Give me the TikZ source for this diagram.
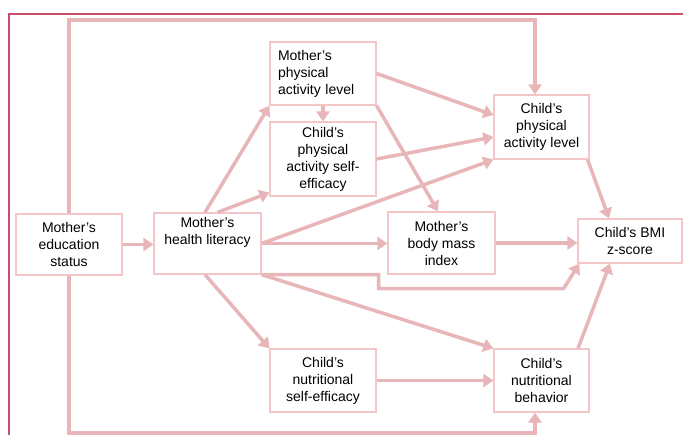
\documentclass[tikz,border=0pt]{standalone}
\usepackage{fontspec}
\setmainfont{Liberation Sans}
\usetikzlibrary{arrows.meta}
\definecolor{boxpink}{HTML}{F4C6C8}
\definecolor{arrpink}{HTML}{E8B5B9}
\definecolor{framered}{HTML}{C84E69}

\begin{document}
\begin{tikzpicture}[x=1pt, y=-1pt,
        box/.style={draw=boxpink, line width=1.2pt, inner sep=0pt, align=center, font=\fontsize{14}{17}\selectfont},
        arr/.style={draw=arrpink, line width=3.5pt, -{Triangle[length=10pt,width=13pt]}}]
            \useasboundingbox (0,0) rectangle (683,435);
            \draw[framered, line width=1.4pt] (9,435) -- (9,14) -- (683,14);

            \node[box, minimum width=106pt, minimum height=61pt] (mes) at (69,244.5) {Mother’s\\education\\status};
            \node[box, minimum width=107pt, minimum height=61pt] (mhl) at (207.5,243.5) {Mother’s\\health literacy\\[8pt]};
            \node[box, minimum width=106pt, minimum height=63pt, text width=90pt, align=left] (mpa) at (323,73.5) {Mother’s\\physical\\activity level};
            \node[box, minimum width=106pt, minimum height=74pt] (cpase) at (323,159) {Child’s\\physical\\activity self-\\efficacy};
            \node[box, minimum width=95pt, minimum height=64pt] (cpa) at (541.5,127) {Child’s\\physical\\activity level};
            \node[box, minimum width=107pt, minimum height=62pt] (mbmi) at (441.5,243) {Mother’s\\body mass\\index};
            \node[box, minimum width=104pt, minimum height=44pt] (cbmi) at (630,241) {Child’s BMI\\z-score};
            \node[box, minimum width=106pt, minimum height=63pt] (cnse) at (323,380.5) {Child’s\\nutritional\\self-efficacy};
            \node[box, minimum width=95pt, minimum height=63pt] (cnb) at (541.5,380.5) {Child’s\\nutritional\\behavior};

            \coordinate (top) at (300,20);
            \coordinate (bot) at (300,433);

            \draw[arr] (mes.east) -- (mes.east -| mhl.west);
            \draw[arr] (mes.north) |- (top) -| ([xshift=-6.5pt]cpa.north);
            \draw[arr] (mes.south) |- (bot) -| ([xshift=-6.5pt]cnb.south);
            \draw[arr] ([xshift=-2.5pt]mhl.north) -- (mpa.south west);
            \draw[arr] ([xshift=10pt]mhl.north) -- ([yshift=4pt]cpase.south west);
            \draw[arr] (mhl.east) -- (cpa.south west);
            \draw[arr] (mhl.east) -- (mhl.east -| mbmi.west);
            \draw[arr] (mhl.south east) -- ++(117,0) -- ++(0,14) -- ++(185,0) -- ([xshift=2pt]cbmi.south west);
            \draw[arr] (mhl.south east) -- (cnb.north west);
            \draw[arr] ([xshift=-2.5pt]mhl.south) -- (cnse.north west);
            \draw[arr] (mpa.south) -- (cpase.north);
            \draw[arr] (mpa.east) -- ([yshift=12pt]cpa.west);
            \draw[arr] (mpa.south east) -- ([xshift=-3.5pt]mbmi.north);
            \draw[arr] (cpase.east) -- ([yshift=-10pt]cpa.west);
            \draw[arr] ([xshift=-2pt]cpa.south east) -- ([xshift=-21pt]cbmi.north);
            \draw[arr] (mbmi.east) -- (mbmi.east -| cbmi.west);
            \draw[arr] (cnse.east) -- (cnb.west);
            \draw[arr] ([xshift=36.5pt]cnb.north) -- ([xshift=-20pt]cbmi.south);
        \end{tikzpicture}
\end{document}
